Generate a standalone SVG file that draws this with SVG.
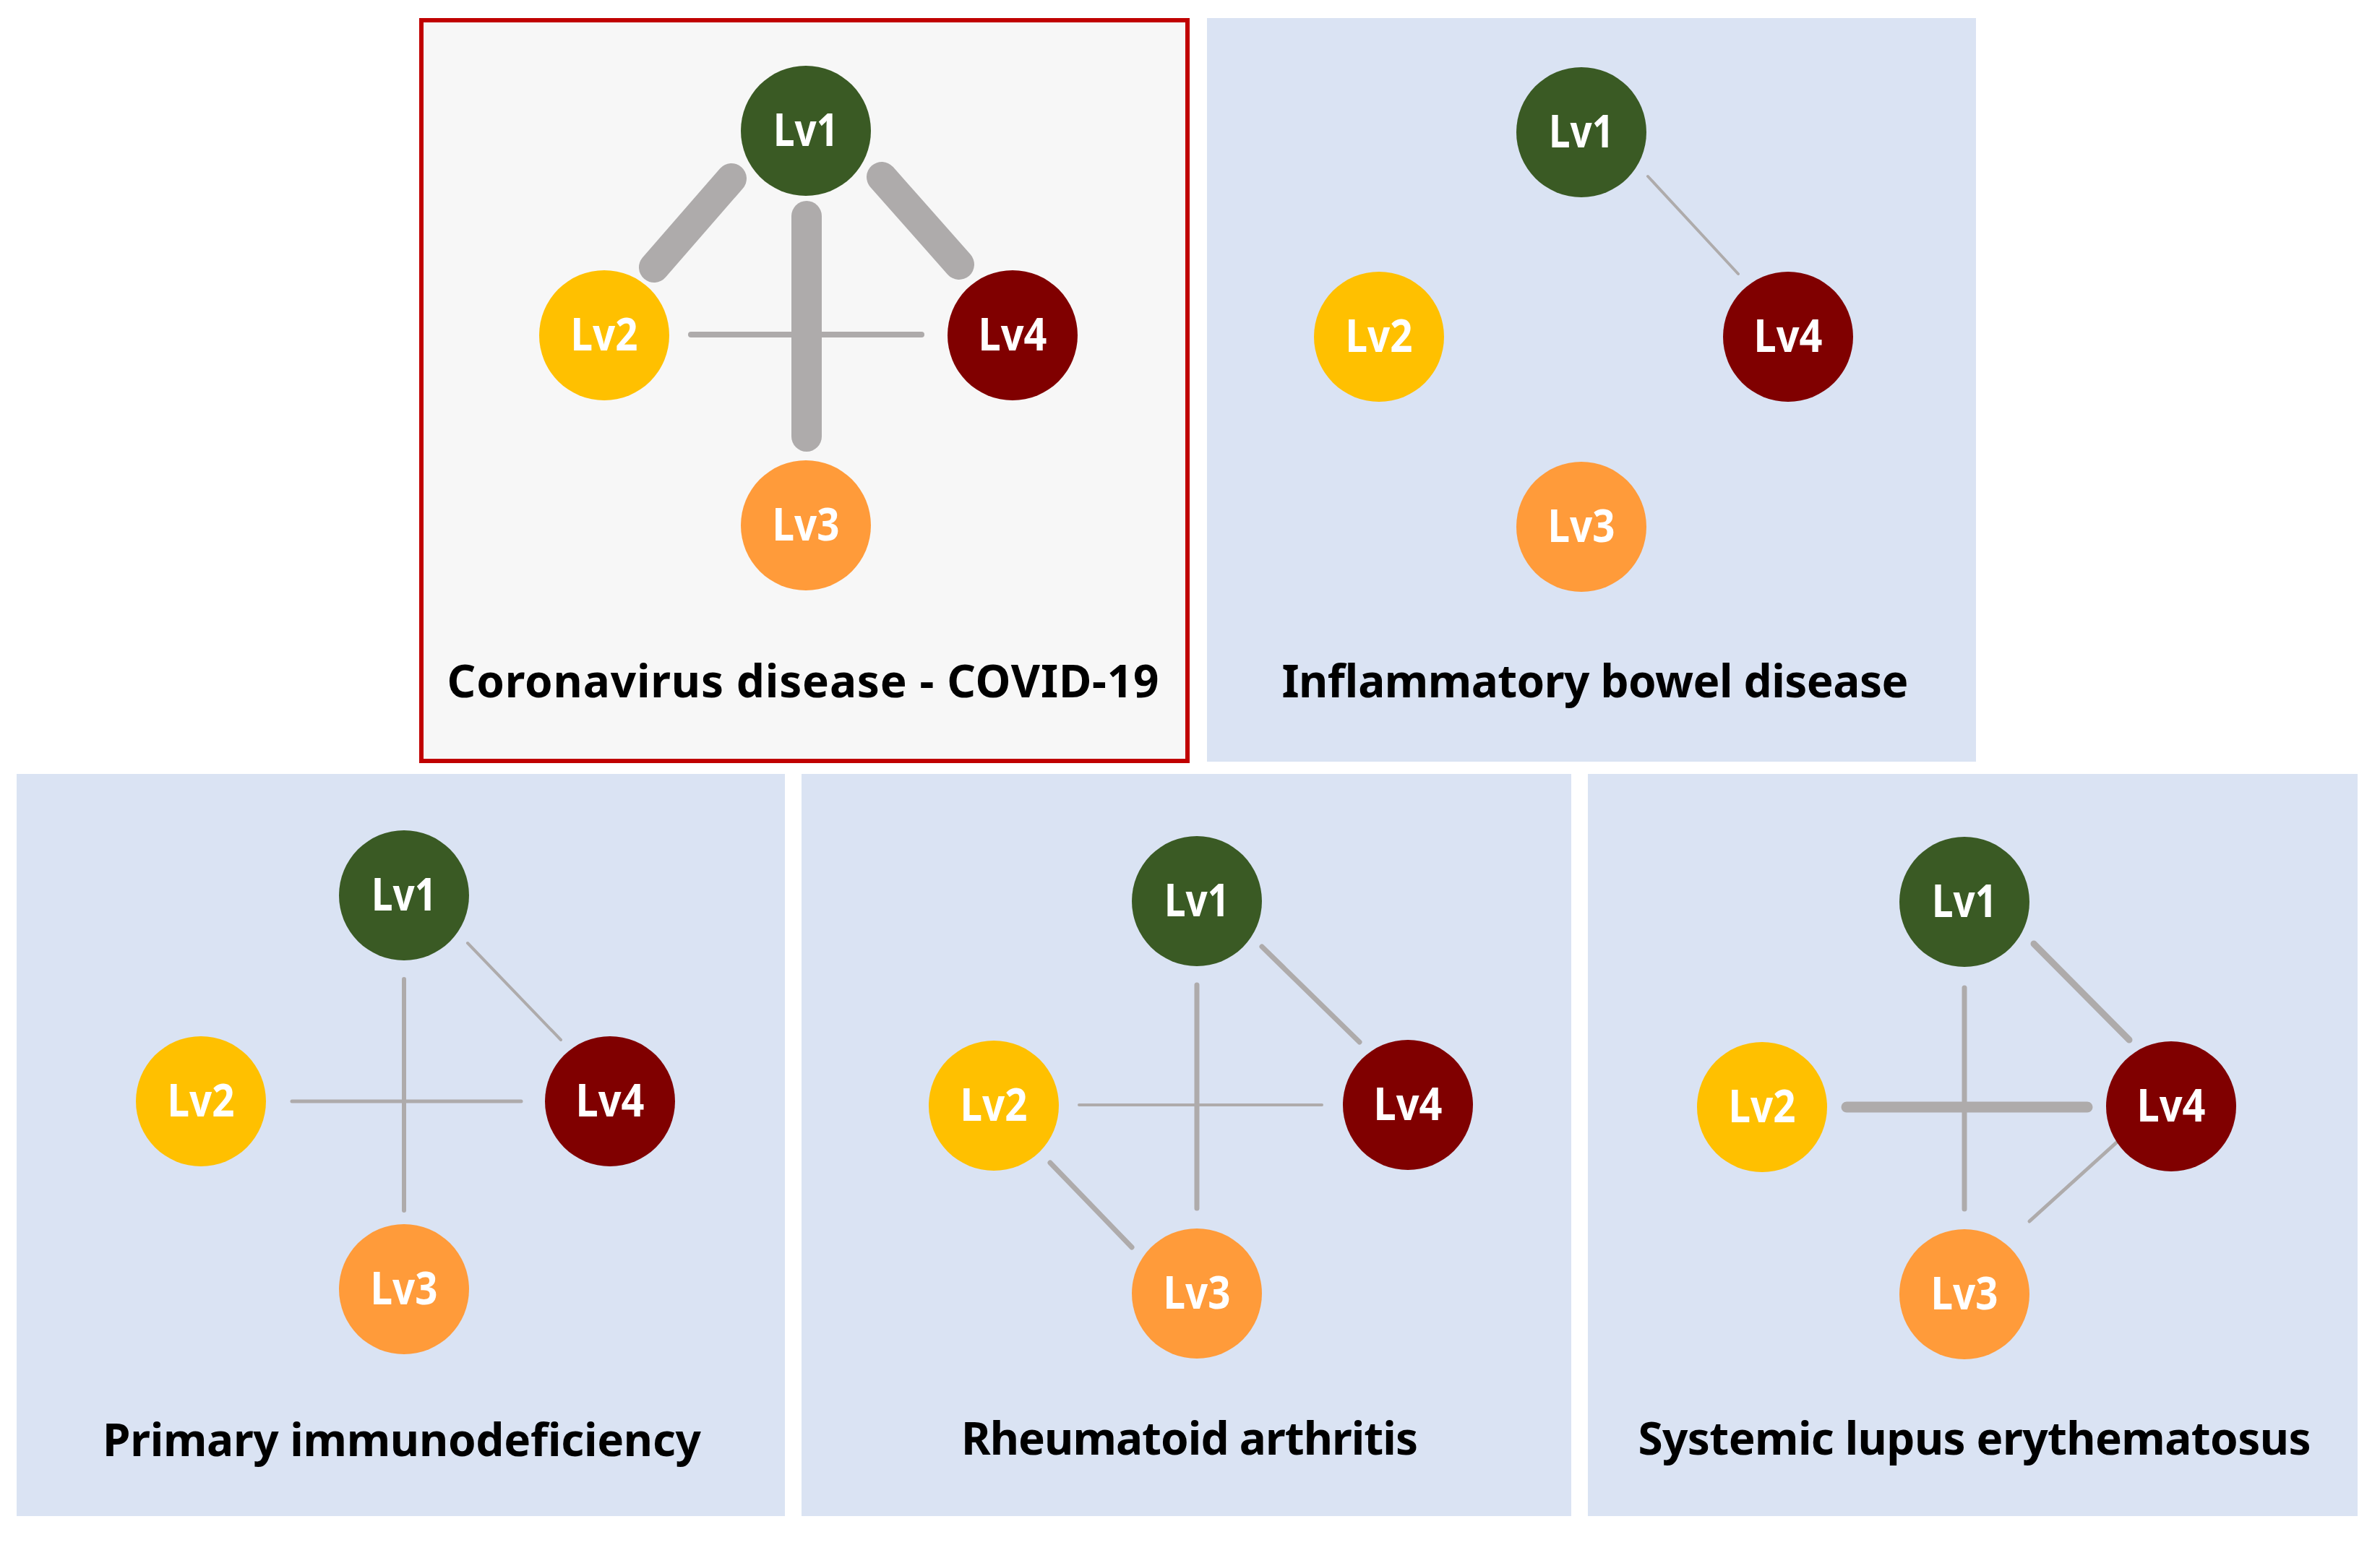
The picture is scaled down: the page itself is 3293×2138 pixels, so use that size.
<svg xmlns="http://www.w3.org/2000/svg" width="3293" height="2138" viewBox="0 0 3293 2138">
<style>
.bg{fill:#dae3f3}
.c{stroke:#aeabab;stroke-linecap:round;fill:none}
.lv{font-family:"Noto Sans","Liberation Sans",sans-serif;font-weight:700;font-size:62px;fill:#ffffff;text-anchor:middle}
.t{font-family:"Noto Sans","Liberation Sans",sans-serif;font-weight:700;font-size:62px;fill:#000000;text-anchor:middle}
.n1{fill:#3a5a24}.n2{fill:#ffc000}.n3{fill:#ff9b3a}.n4{fill:#800000}
</style>
<rect width="3293" height="2138" fill="#ffffff"/>
<g id="panels">
<rect id="panel-covid" x="583" y="28" width="1060" height="1025" fill="#f7f7f7" stroke="#c00000" stroke-width="6"/>
<rect id="panel-ibd" class="bg" x="1670" y="25" width="1064" height="1029"/>
<rect id="panel-pid" class="bg" x="23" y="1071" width="1063" height="1027"/>
<rect id="panel-ra" class="bg" x="1109" y="1071" width="1065" height="1027"/>
<rect id="panel-sle" class="bg" x="2197" y="1071" width="1065" height="1027"/>
</g>
<g id="connectors">
<line class="c" x1="1012" y1="247" x2="905" y2="370" stroke-width="42"/>
<line class="c" x1="1220" y1="245" x2="1327" y2="366" stroke-width="42"/>
<line class="c" x1="1116" y1="299" x2="1116" y2="604" stroke-width="42"/>
<line class="c" x1="956" y1="463" x2="1275" y2="463" stroke-width="8"/>
<line class="c" x1="2280" y1="244" x2="2405" y2="379" stroke-width="4"/>
<line class="c" x1="559" y1="1355" x2="559" y2="1675" stroke-width="6"/>
<line class="c" x1="404" y1="1524" x2="721" y2="1524" stroke-width="5"/>
<line class="c" x1="647" y1="1305" x2="776" y2="1439" stroke-width="4"/>
<line class="c" x1="1656" y1="1363" x2="1656" y2="1672" stroke-width="7"/>
<line class="c" x1="1493" y1="1529" x2="1829" y2="1529" stroke-width="4"/>
<line class="c" x1="1746" y1="1310" x2="1881" y2="1442" stroke-width="7"/>
<line class="c" x1="1453" y1="1609" x2="1566" y2="1726" stroke-width="7"/>
<line class="c" x1="2718" y1="1367" x2="2718" y2="1673" stroke-width="7"/>
<line class="c" x1="2555" y1="1532" x2="2888" y2="1532" stroke-width="15"/>
<line class="c" x1="2814" y1="1306" x2="2946" y2="1439" stroke-width="9"/>
<line class="c" x1="2935" y1="1575" x2="2808" y2="1690" stroke-width="5"/>
</g>
<g id="covid-nodes">
<g id="covid-lv1"><circle class="n1" cx="1115" cy="181" r="90"/><text class="lv" x="1115" y="202" textLength="90" lengthAdjust="spacingAndGlyphs">Lv1</text></g>
<g id="covid-lv2"><circle class="n2" cx="836" cy="464" r="90"/><text class="lv" x="836" y="485" textLength="93" lengthAdjust="spacingAndGlyphs">Lv2</text></g>
<g id="covid-lv3"><circle class="n3" cx="1115" cy="727" r="90"/><text class="lv" x="1115" y="748" textLength="93" lengthAdjust="spacingAndGlyphs">Lv3</text></g>
<g id="covid-lv4"><circle class="n4" cx="1401" cy="464" r="90"/><text class="lv" x="1401" y="485" textLength="95" lengthAdjust="spacingAndGlyphs">Lv4</text></g>
</g>
<g id="ibd-nodes">
<g id="ibd-lv1"><circle class="n1" cx="2188" cy="183" r="90"/><text class="lv" x="2188" y="204" textLength="90" lengthAdjust="spacingAndGlyphs">Lv1</text></g>
<g id="ibd-lv2"><circle class="n2" cx="1908" cy="466" r="90"/><text class="lv" x="1908" y="487" textLength="93" lengthAdjust="spacingAndGlyphs">Lv2</text></g>
<g id="ibd-lv3"><circle class="n3" cx="2188" cy="729" r="90"/><text class="lv" x="2188" y="750" textLength="93" lengthAdjust="spacingAndGlyphs">Lv3</text></g>
<g id="ibd-lv4"><circle class="n4" cx="2474" cy="466" r="90"/><text class="lv" x="2474" y="487" textLength="95" lengthAdjust="spacingAndGlyphs">Lv4</text></g>
</g>
<g id="pid-nodes">
<g id="pid-lv1"><circle class="n1" cx="559" cy="1239" r="90"/><text class="lv" x="559" y="1260" textLength="90" lengthAdjust="spacingAndGlyphs">Lv1</text></g>
<g id="pid-lv2"><circle class="n2" cx="278" cy="1524" r="90"/><text class="lv" x="278" y="1545" textLength="93" lengthAdjust="spacingAndGlyphs">Lv2</text></g>
<g id="pid-lv3"><circle class="n3" cx="559" cy="1784" r="90"/><text class="lv" x="559" y="1805" textLength="93" lengthAdjust="spacingAndGlyphs">Lv3</text></g>
<g id="pid-lv4"><circle class="n4" cx="844" cy="1524" r="90"/><text class="lv" x="844" y="1545" textLength="95" lengthAdjust="spacingAndGlyphs">Lv4</text></g>
</g>
<g id="ra-nodes">
<g id="ra-lv1"><circle class="n1" cx="1656" cy="1247" r="90"/><text class="lv" x="1656" y="1268" textLength="90" lengthAdjust="spacingAndGlyphs">Lv1</text></g>
<g id="ra-lv2"><circle class="n2" cx="1375" cy="1530" r="90"/><text class="lv" x="1375" y="1551" textLength="93" lengthAdjust="spacingAndGlyphs">Lv2</text></g>
<g id="ra-lv3"><circle class="n3" cx="1656" cy="1790" r="90"/><text class="lv" x="1656" y="1811" textLength="93" lengthAdjust="spacingAndGlyphs">Lv3</text></g>
<g id="ra-lv4"><circle class="n4" cx="1948" cy="1529" r="90"/><text class="lv" x="1948" y="1550" textLength="95" lengthAdjust="spacingAndGlyphs">Lv4</text></g>
</g>
<g id="sle-nodes">
<g id="sle-lv1"><circle class="n1" cx="2718" cy="1248" r="90"/><text class="lv" x="2718" y="1269" textLength="90" lengthAdjust="spacingAndGlyphs">Lv1</text></g>
<g id="sle-lv2"><circle class="n2" cx="2438" cy="1532" r="90"/><text class="lv" x="2438" y="1553" textLength="93" lengthAdjust="spacingAndGlyphs">Lv2</text></g>
<g id="sle-lv3"><circle class="n3" cx="2718" cy="1791" r="90"/><text class="lv" x="2718" y="1812" textLength="93" lengthAdjust="spacingAndGlyphs">Lv3</text></g>
<g id="sle-lv4"><circle class="n4" cx="3004" cy="1531" r="90"/><text class="lv" x="3004" y="1552" textLength="95" lengthAdjust="spacingAndGlyphs">Lv4</text></g>
</g>
<g id="titles">
<text class="t" x="1111" y="965" textLength="985">Coronavirus disease - COVID-19</text>
<text class="t" x="2207" y="965" textLength="867">Inflammatory bowel disease</text>
<text class="t" x="556" y="2015" textLength="828">Primary immunodeficiency</text>
<text class="t" x="1646" y="2013" textLength="632">Rheumatoid arthritis</text>
<text class="t" x="2732" y="2013" textLength="931">Systemic lupus erythematosus</text>
</g>
</svg>
